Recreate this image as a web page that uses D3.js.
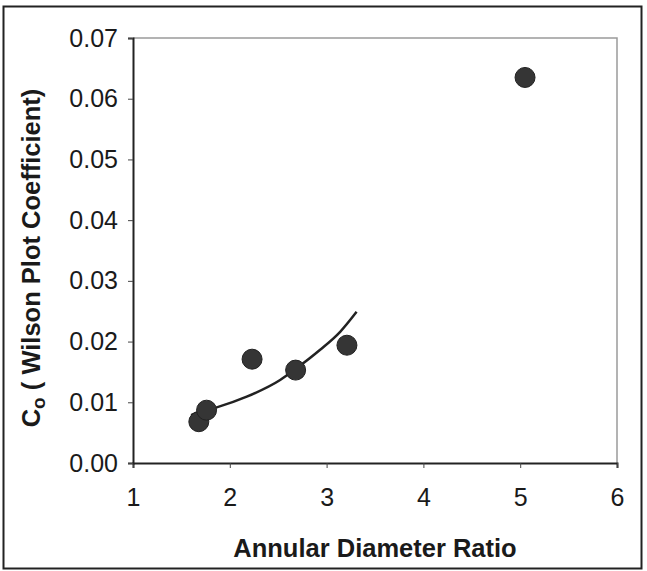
<!DOCTYPE html>
<html>
<head>
<meta charset="utf-8">
<script src="https://cdn.jsdelivr.net/npm/d3@7"></script>
<style>
  body { margin: 0; background: #fff; }
  text { font-family: "Liberation Sans", Arial, sans-serif; fill: #1a1a1a; }
</style>
</head>
<body>
<svg id="chart" width="647" height="571"></svg>
<script>
// measured points
var ratio = [1.68, 1.76, 2.23, 2.68, 3.21, 5.05]
var coeff = [0.0068, 0.0087, 0.0171, 0.0153, 0.0194, 0.0635]

// fitted curve
var fitX = [1.60, 1.69, 1.865, 2.175, 2.52, 2.69, 2.93, 3.14, 3.31]
var fitY = [0.0079, 0.00845, 0.00917, 0.01092, 0.01367, 0.0156, 0.0186, 0.0216, 0.0249]

var xTicks = [1, 2, 3, 4, 5, 6]
var yTicks = [0, 0.01, 0.02, 0.03, 0.04, 0.05, 0.06, 0.07]

var svg = d3.select("#chart")
var pLeft = 133, pRight = 617, pTop = 38, pBottom = 463

var x = d3.scaleLinear().domain([1, 6]).range([pLeft, pRight])
var y = d3.scaleLinear().domain([0, 0.07]).range([pBottom, pTop])

// outer frame
svg.append("rect")
    .attr("x", 3.5).attr("y", 6.5)
    .attr("width", 638).attr("height", 562)
    .attr("fill", "none").attr("stroke", "#222").attr("stroke-width", 2)

// plot frame (top/right light)
svg.append("path")
    .attr("d", "M" + pLeft + "," + pTop + "H" + pRight + "V" + pBottom)
    .attr("fill", "none").attr("stroke", "#9a9a9a").attr("stroke-width", 1.5)

var xAxis = svg.append("g")
    .attr("transform", "translate(0," + pBottom + ")")
    .call(d3.axisBottom(x).tickValues(xTicks).tickSize(5).tickPadding(20).tickFormat(d3.format("d")))
var yAxis = svg.append("g")
    .attr("transform", "translate(" + pLeft + ",0)")
    .call(d3.axisLeft(y).tickValues(yTicks).tickSize(5).tickPadding(10).tickFormat(d3.format(".2f")))

;[xAxis, yAxis].forEach(function(g) {
    g.attr("font-size", 25)
    g.select(".domain").attr("stroke", "#222").attr("stroke-width", 2)
    g.selectAll(".tick line").attr("stroke", "#444").attr("stroke-width", 1)
    g.selectAll(".tick text")
        .style("font-family", "'Liberation Sans', Arial, sans-serif")
        .attr("fill", "#1a1a1a")
})

// fitted curve
var fit = fitX.map(function(d, i) { return [d, fitY[i]] })
svg.append("path")
    .datum(fit)
    .attr("fill", "none").attr("stroke", "#222").attr("stroke-width", 2.5)
    .attr("d", d3.line()
        .x(function(d) { return x(d[0]) })
        .y(function(d) { return y(d[1]) })
        .curve(d3.curveMonotoneX))

// points
svg.selectAll(".pt")
    .data(ratio).enter()
    .append("circle")
    .attr("class", "pt")
    .attr("cx", function(d) { return x(d) })
    .attr("cy", function(d, i) { return y(coeff[i]) })
    .attr("r", 10)
    .attr("fill", "#353535")
    .attr("stroke", "#222").attr("stroke-width", 1)

// axis titles
svg.append("text")
    .attr("x", 375).attr("y", 557)
    .attr("text-anchor", "middle")
    .style("font-size", "25.5px").style("font-weight", "bold")
    .text("Annular Diameter Ratio")

var yt = svg.append("text")
    .attr("transform", "translate(40,258) rotate(-90)")
    .attr("text-anchor", "middle")
    .style("font-size", "25.5px").style("font-weight", "bold")
yt.append("tspan").text("C")
yt.append("tspan").attr("dy", 5).style("font-size", "19px").text("o")
yt.append("tspan").attr("dy", -5).text(" ( Wilson Plot Coefficient)")
</script>
</body>
</html>
